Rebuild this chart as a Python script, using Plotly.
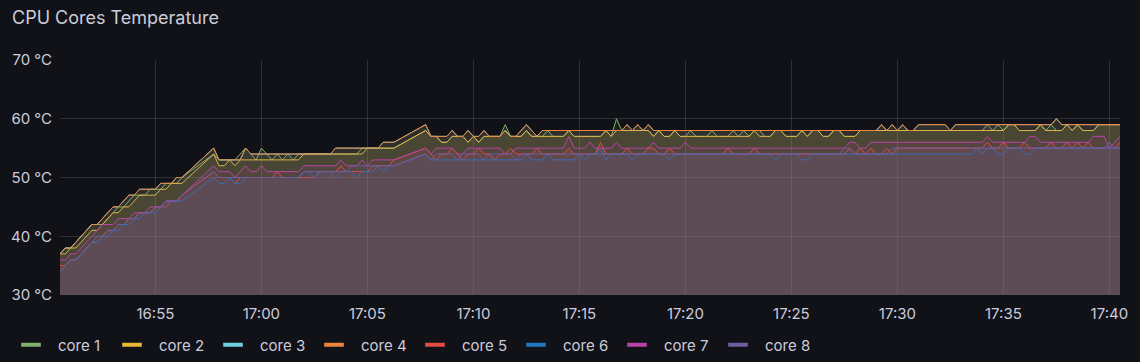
import pandas as pd
import plotly.graph_objects as go

N = None  # missing sample (line is connected across it)

start_time = "2024-05-01 16:50:30"
sample_step = "15s"

series_names = ["core 1", "core 2", "core 3", "core 4", "core 5", "core 6", "core 7", "core 8"]
series_colors = ["#7EB26D", "#EAB839", "#6ED0E0", "#EF843C", "#E24D42", "#1F78C1", "#BA43A9", "#705DA0"]

x_tick_labels = ["16:55", "17:00", "17:05", "17:10", "17:15", "17:20", "17:25", "17:30", "17:35", "17:40"]
y_tick_values = [30, 40, 50, 60, 70]
y_tick_labels = ["30 °C", "40 °C", "50 °C", "60 °C", "70 °C"]

core_1 = [
    37, 38, 38, 39, 40, 41, 42, 42, 42, 43,
    44, 45, 45, 46, 47, 47, 47, 48, 48, 48,
    49, 49, 49, 50, N, N, N, N, N, 54,
    53, 53, 53, 53, 54, 55, 54, 53, 55, 54,
    53, 54, 53, 54, 53, 54, 54, 54, 54, 54,
    54, 54, 54, 54, 54, 54, 54, 55, 55, 55,
    55, 55, 55, 55, N, N, N, N, N, 58,
    57, 57, 56, 56, 57, 57, 57, 56, 57, 56,
    57, 57, 57, 57, 59, 57, 57, 57, 58, 57,
    57, 57, 58, 57, 57, 57, 58, 57, 57, 57,
    57, 57, 57, 58, 57, 60, 58, 58, 58, 58,
    58, 58, 57, 58, 57, 57, 58, 57, 57, 58,
    57, 57, 57, 58, 57, 57, 57, 58, 57, 58,
    57, 58, 58, 57, 57, 58, 58, 57, 57, 57,
    58, 57, 58, 58, 57, 57, 58, 58, 57, 57,
    57, 58, 58, 58, 58, 58, 58, 58, 58, 58,
    58, 58, 58, 58, 58, 58, 58, 58, 58, 58,
    58, 58, 58, 58, 58, 59, 58, 59, 58, 59,
    59, 58, 58, 58, 58, 59, 58, 59, 58, 58,
    59, 58, 59, 58, 58, 58, 59, 59, 59, 59,
    59]

core_2 = [
    37, 37, 38, 38, 39, 40, 41, 41, 42, 43,
    44, 44, 45, 45, 46, 47, 47, 47, 47, 48,
    48, 49, 49, 49, N, N, N, N, N, 54,
    52, 52, 53, 52, 53, 53, 53, 53, 53, 53,
    53, 53, 53, 53, 53, 53, 54, 54, 54, 54,
    54, 54, 54, 54, 54, 54, 54, 54, 55, 55,
    55, 55, 55, 55, N, N, N, N, N, 58,
    57, 57, 56, 56, 57, 57, 57, 56, 57, 56,
    57, 57, 57, 57, 58, 57, 57, 57, 58, 57,
    57, 57, 57, 57, 57, 57, 58, 57, 57, 57,
    57, 57, 57, 58, 57, 58, 58, 58, 58, 58,
    58, 58, 57, 58, 57, 57, 58, 57, 57, 57,
    57, 57, 57, 57, 57, 57, 57, 57, 57, 57,
    57, 58, 57, 57, 57, 58, 58, 57, 57, 57,
    58, 57, 58, 58, 57, 57, 58, 58, 57, 57,
    57, 58, 58, 58, 58, 58, 58, 58, 58, 58,
    58, 58, 58, 58, 58, 58, 58, 58, 58, 58,
    58, 58, 58, 58, 58, 58, 58, 58, 58, 59,
    59, 58, 58, 58, 58, 59, 58, 58, 58, 58,
    59, 58, 59, 58, 58, 58, 59, 59, 59, 59,
    59]

core_4 = [
    37, 38, 38, 39, 40, 41, 42, 42, 43, 44,
    45, 45, 46, 47, 47, 48, 48, 48, 48, 49,
    49, 49, 50, 50, N, N, N, N, N, 55,
    53, 53, 53, 53, 53, 55, 54, 54, 54, 54,
    54, 54, 54, 54, 54, 54, 54, 54, 54, 54,
    54, 54, 55, 55, 55, 55, 55, 55, 55, 55,
    55, 56, 56, 56, N, N, N, N, N, 59,
    57, 57, 57, 57, 58, 57, 57, 58, 57, 57,
    58, 57, 57, 57, 58, 57, 57, 58, 59, 58,
    57, 58, 58, 58, 58, 58, 58, 58, 58, 58,
    58, 58, 58, 58, 58, 58, 58, 59, 58, 59,
    58, 59, 58, 58, 58, 58, 58, 58, 58, 58,
    58, 58, 58, 58, 58, 58, 58, 58, 58, 58,
    58, 58, 58, 58, 58, 58, 58, 58, 58, 58,
    58, 58, 58, 58, 58, 58, 58, 58, 58, 58,
    58, 58, 58, 58, 58, 59, 58, 59, 58, 59,
    58, 58, 59, 59, 59, 59, 59, 59, 58, 59,
    59, 59, 59, 59, 59, 59, 59, 59, 59, 59,
    59, 59, 59, 59, 59, 59, 59, 59, 60, 59,
    59, 59, 59, 59, 59, 59, 59, 59, 59, 59,
    59]

# core 3 runs underneath core 4 for the whole range (hidden in the picture)
core_3 = list(core_4)

core_5 = [
    35, 35, 36, 36, 37, 38, 39, 39, 40, 41,
    41, 42, 42, 43, 43, 44, 44, 44, 45, 45,
    45, 46, 46, 47, N, N, N, N, N, 51,
    50, 50, 50, 49, 50, 50, 50, 50, 50, 50,
    50, 51, 50, 50, 50, 50, 50, 50, 50, 51,
    51, 51, 51, 52, 51, 51, 51, 51, 51, 52,
    52, 52, 52, 53, N, N, N, N, N, 55,
    54, 53, 54, 54, 55, 54, 53, 54, 54, 55,
    54, 54, 53, 54, 54, 55, 54, 54, 54, 54,
    55, 54, 54, 54, 54, 54, 55, 54, 54, 54,
    54, 54, 56, 54, 54, 54, 54, 55, 54, 54,
    54, 55, 55, 54, 54, 55, 54, 54, 54, 54,
    54, 54, 54, 54, 54, 54, 55, 54, 54, 54,
    54, 55, 54, 54, 54, 54, 54, 54, 54, 54,
    54, 54, 54, 54, 54, 54, 54, 54, 54, 55,
    54, 55, 54, 55, 54, 54, 55, 54, 55, 55,
    55, 55, 55, 55, 55, 55, 55, 55, 55, 55,
    55, 55, 55, 55, 55, 56, 55, 55, 56, 55,
    55, 55, 56, 55, 55, 55, 55, 56, 55, 55,
    56, 55, 56, 55, 56, 55, 55, 55, 55, 55,
    56]

core_6 = [
    34, 35, 36, 36, 37, 38, 39, 39, 40, 40,
    41, 41, 42, 42, 43, 43, 44, 44, 44, 45,
    46, 46, 46, 46, N, N, N, N, N, 50,
    49, 49, 50, 49, 49, 50, 50, 50, 50, 50,
    50, 50, 50, 50, 50, 50, 51, 51, 50, 51,
    51, 51, 50, 51, 51, 51, 50, 51, 51, 51,
    52, 51, 52, 52, N, N, N, N, N, 54,
    53, 53, 53, 53, 53, 53, 53, 53, 53, 53,
    53, 53, 53, 53, 53, 53, 53, 53, 54, 53,
    53, 53, 54, 53, 53, 53, 53, 53, 54, 53,
    54, 54, 55, 53, 54, 54, 54, 54, 53, 54,
    54, 54, 54, 54, 54, 53, 54, 54, 54, 54,
    54, 54, 54, 54, 54, 54, 54, 54, 54, 54,
    54, 54, 54, 54, 54, 53, 54, 54, 54, 54,
    53, 53, 54, 54, 54, 54, 54, 54, 54, 54,
    54, 54, 54, 54, 54, 54, 54, 54, 54, 54,
    54, 54, 54, 54, 54, 54, 54, 54, 54, 54,
    54, 54, 54, 55, 54, 55, 55, 54, 54, 55,
    55, 55, 54, 54, 55, 55, 55, 55, 55, 55,
    55, 55, 55, 55, 55, 55, 55, 55, 55, 55,
    55]

core_7 = [
    36, 36, 37, 37, 38, 39, 40, 41, 42, 42,
    42, 43, 43, 43, 44, 44, 44, 45, 45, 45,
    46, 46, 46, 47, N, N, N, N, N, 52,
    51, 51, 51, 50, 51, 52, 51, 51, 52, 51,
    51, 51, 51, 51, 51, 51, 52, 52, 52, 52,
    52, 52, 52, 53, 52, 52, 52, 53, 52, 53,
    53, 53, 53, 53, N, N, N, N, N, 55,
    54, 55, 55, 55, 55, 54, 54, 55, 55, 55,
    55, 55, 55, 55, 54, 54, 55, 55, 55, 55,
    55, 55, 55, 55, 55, 55, 57, 55, 55, 55,
    56, 55, 55, 55, 55, 56, 55, 55, 55, 55,
    55, 55, 56, 55, 55, 55, 55, 55, 56, 55,
    55, 55, 55, 55, 55, 55, 55, 55, 55, 55,
    55, 55, 55, 55, 55, 55, 55, 55, 55, 55,
    55, 55, 55, 55, 55, 55, 55, 55, 55, 56,
    56, 55, 55, 56, 56, 56, 56, 56, 56, 56,
    56, 56, 56, 56, 56, 56, 56, 56, 56, 56,
    56, 56, 56, 56, 56, 57, 56, 56, 56, 56,
    56, 56, 56, 57, 57, 56, 56, 56, 56, 56,
    56, 56, 56, 56, 56, 57, 57, 57, 55, 56,
    57]

core_8 = [
    34, 35, 36, 36, 37, 38, 39, 40, 40, 41,
    41, 42, 42, 43, 43, 44, 44, 44, 45, 45,
    46, 46, 46, 47, N, N, N, N, N, 51,
    50, 50, 50, 50, 50, 50, 50, 50, 50, 50,
    50, 50, 50, 50, 50, 50, 51, 51, 51, 51,
    51, 51, 51, 51, 51, 52, 52, 52, 52, 52,
    52, 52, 52, 52, N, N, N, N, N, 54,
    53, 54, 54, 54, 54, 53, 54, 54, 54, 54,
    53, 54, 54, 54, 54, 54, 53, 54, 54, 54,
    54, 54, 54, 54, 54, 54, 54, 54, 54, 54,
    54, 54, 54, 54, 54, 54, 54, 54, 54, 54,
    54, 54, 54, 54, 54, 54, 54, 54, 54, 54,
    54, 54, 54, 54, 54, 54, 54, 54, 54, 54,
    54, 54, 54, 54, 54, 54, 54, 54, 54, 54,
    54, 54, 54, 54, 54, 54, 54, 54, 55, 55,
    54, 54, 54, 54, 54, 54, 54, 55, 55, 55,
    55, 55, 55, 55, 55, 55, 55, 55, 55, 55,
    55, 55, 55, 55, 55, 55, 55, 55, 55, 55,
    55, 55, 55, 55, 55, 55, 55, 55, 55, 55,
    55, 55, 55, 55, 55, 55, 55, 55, 56, 55,
    55]

series_values = [core_1, core_2, core_3, core_4, core_5, core_6, core_7, core_8]


def rgba(hex_color, alpha):
    h = hex_color.lstrip("#")
    r, g, b = int(h[0:2], 16), int(h[2:4], 16), int(h[4:6], 16)
    return f"rgba({r},{g},{b},{alpha})"


day = start_time.split(" ")[0]
fig = go.Figure()

for name, values, color in zip(series_names, series_values, series_colors):
    times = pd.date_range(start=start_time, periods=len(values), freq=sample_step)
    fig.add_trace(go.Scatter(
        x=times, y=values, name=name, mode="lines",
        line=dict(color=color, width=1),
        fill="tozeroy", fillcolor=rgba(color, 0.1),
        connectgaps=True, showlegend=False, hoverinfo="skip",
    ))

# legend entries (short thick bars like the reference legend)
for name, color in zip(series_names, series_colors):
    fig.add_trace(go.Scatter(
        x=[None], y=[None], name=name, mode="markers",
        marker=dict(symbol="line-ew-open", size=14, color=color,
                    line=dict(width=4, color=color)),
        showlegend=True, hoverinfo="skip",
    ))

x_start = pd.Timestamp(start_time)
x_end = x_start + pd.Timedelta(sample_step) * (len(core_1) - 1)
x_tick_values = [pd.Timestamp(f"{day} {t}") for t in x_tick_labels]

grid_color = "rgba(204,204,220,0.16)"
text_color = "#ccccdc"

fig.update_layout(
    width=1140, height=362,
    paper_bgcolor="#111217", plot_bgcolor="#111217",
    margin=dict(l=60, r=20, t=60, b=67, autoexpand=False),
    font=dict(family="Inter, 'Open Sans', sans-serif", color=text_color, size=15),
    title=dict(text="CPU Cores Temperature", xref="container", x=12 / 1140, xanchor="left",
               yref="container", y=1 - 18 / 362, yanchor="middle",
               font=dict(size=18, color=text_color)),
    xaxis=dict(type="date", range=[x_start, x_end],
               tickmode="array", tickvals=x_tick_values, ticktext=x_tick_labels,
               showgrid=True, gridcolor=grid_color, gridwidth=1,
               zeroline=False, showline=False, ticks="",
               ticklabelstandoff=8, tickfont=dict(size=15, color=text_color)),
    yaxis=dict(range=[30, 70], tickmode="array", tickvals=y_tick_values, ticktext=y_tick_labels,
               showgrid=True, gridcolor=grid_color, gridwidth=1,
               zeroline=False, showline=False, ticks="",
               ticklabelstandoff=7, tickfont=dict(size=15, color=text_color)),
    legend=dict(orientation="h", xref="container", x=4 / 1140, xanchor="left",
                yref="container", y=1 - 345 / 362, yanchor="middle",
                itemwidth=44, entrywidth=42, entrywidthmode="pixels",
                bgcolor="rgba(0,0,0,0)", borderwidth=0,
                font=dict(size=15, color=text_color)),
    hovermode=False,
)

fig.write_html("out.html", config={"displayModeBar": False},
               post_script="document.body.style.margin='0px';")
